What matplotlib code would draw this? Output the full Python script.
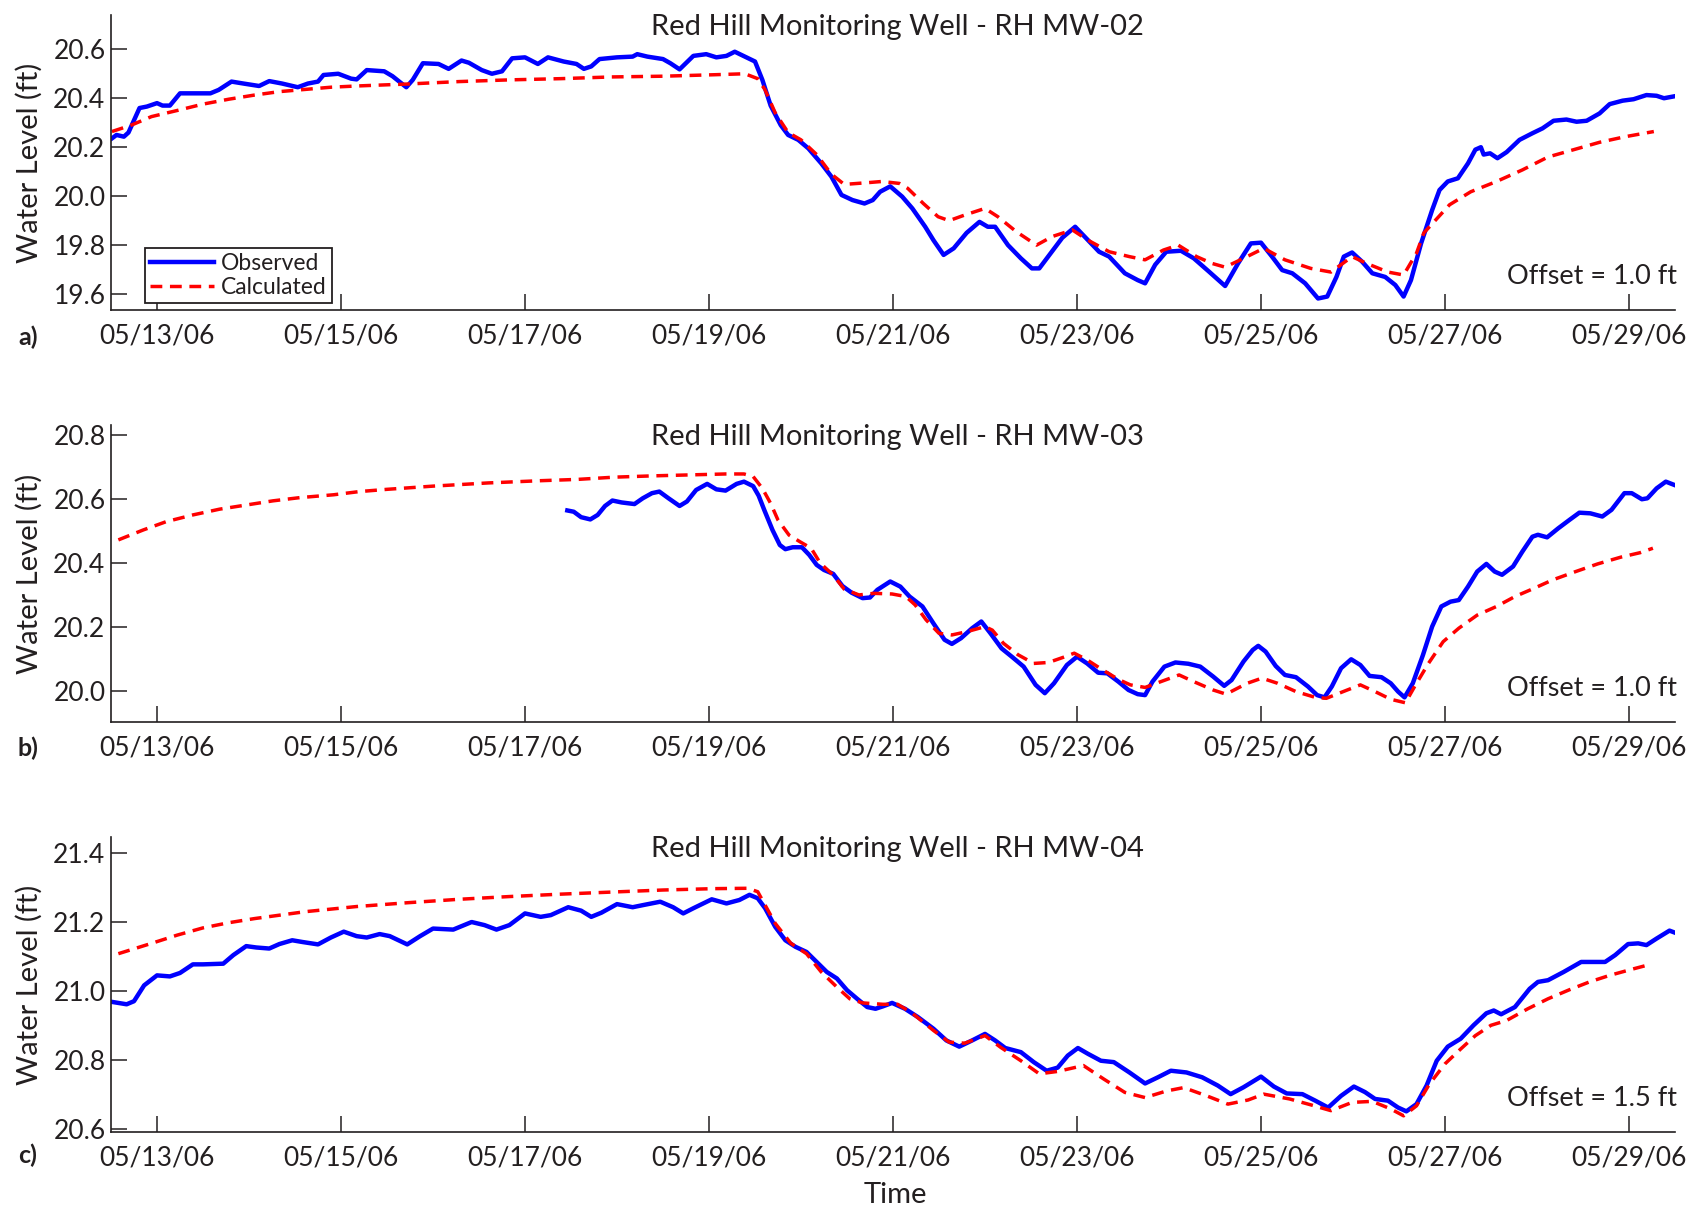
import numpy as np
import pandas as pd
import matplotlib
matplotlib.use('Agg')
import matplotlib.pyplot as plt
import matplotlib.dates as mdates

plt.rcParams['font.family'] = ['Lato', 'DejaVu Sans']

# times are fractional days of May 2006, levels in ft
mw02_obs_day = [12.51, 12.56, 12.64, 12.69, 12.81, 12.89, 13.0, 13.06, 13.14, 13.25,
                13.33, 13.58, 13.67, 13.81, 13.94, 14.11, 14.22, 14.36, 14.53, 14.64,
                14.75, 14.81, 14.97, 15.11, 15.17, 15.28, 15.47, 15.56, 15.71, 15.78,
                15.89, 16.06, 16.17, 16.31, 16.39, 16.53, 16.64, 16.75, 16.86, 17.0,
                17.14, 17.25, 17.42, 17.56, 17.64, 17.72, 17.81, 18.0, 18.17, 18.22,
                18.33, 18.5, 18.58, 18.68, 18.83, 18.97, 19.08, 19.19, 19.28, 19.39,
                19.5, 19.58, 19.67, 19.78, 19.86, 19.97, 20.08, 20.22, 20.33, 20.44,
                20.56, 20.69, 20.78, 20.86, 20.97, 21.1, 21.21, 21.35, 21.44, 21.55,
                21.66, 21.8, 21.94, 22.03, 22.11, 22.25, 22.39, 22.51, 22.59, 22.7,
                22.84, 22.98, 23.12, 23.24, 23.35, 23.52, 23.66, 23.74, 23.85, 23.97,
                24.13, 24.27, 24.44, 24.61, 24.75, 24.89, 25.0, 25.12, 25.23, 25.34,
                25.48, 25.62, 25.72, 25.82, 25.9, 25.99, 26.1, 26.21, 26.35, 26.46,
                26.55, 26.63, 26.74, 26.86, 26.94, 27.03, 27.14, 27.25, 27.33, 27.39,
                27.42, 27.49, 27.57, 27.67, 27.81, 27.95, 28.06, 28.18, 28.32, 28.43,
                28.54, 28.68, 28.79, 28.93, 29.05, 29.19, 29.3, 29.38, 29.48]
mw02_obs_lvl = [20.236, 20.25, 20.243, 20.26, 20.36, 20.366, 20.38, 20.37, 20.37, 20.42,
                20.42, 20.42, 20.434, 20.468, 20.46, 20.45, 20.47, 20.46, 20.445, 20.46,
                20.468, 20.495, 20.5, 20.48, 20.477, 20.515, 20.51, 20.49, 20.445, 20.475,
                20.543, 20.54, 20.52, 20.554, 20.545, 20.515, 20.5, 20.51, 20.563, 20.567,
                20.54, 20.567, 20.55, 20.54, 20.52, 20.53, 20.56, 20.567, 20.57, 20.58,
                20.57, 20.56, 20.543, 20.518, 20.573, 20.58, 20.567, 20.573, 20.59, 20.57,
                20.55, 20.475, 20.37, 20.29, 20.25, 20.23, 20.195, 20.134, 20.08, 20.005,
                19.984, 19.97, 19.984, 20.018, 20.04, 19.998, 19.95, 19.875, 19.82, 19.76,
                19.787, 19.85, 19.895, 19.875, 19.875, 19.80, 19.746, 19.705, 19.705, 19.76,
                19.83, 19.875, 19.82, 19.773, 19.753, 19.685, 19.657, 19.644, 19.72, 19.773,
                19.777, 19.746, 19.69, 19.633, 19.725, 19.807, 19.81, 19.753, 19.698, 19.685,
                19.644, 19.582, 19.59, 19.67, 19.753, 19.77, 19.732, 19.685, 19.67, 19.637,
                19.59, 19.657, 19.807, 19.943, 20.025, 20.06, 20.073, 20.134, 20.19, 20.20,
                20.17, 20.175, 20.155, 20.18, 20.23, 20.257, 20.277, 20.308, 20.313, 20.304,
                20.308, 20.338, 20.376, 20.39, 20.396, 20.413, 20.41, 20.40, 20.407]
mw02_calc_day = [12.51, 12.72, 12.94, 13.22, 13.5, 13.78, 14.06, 14.33, 14.61, 14.89,
                 15.17, 15.44, 15.72, 16.28, 16.83, 17.39, 17.94, 18.5, 19.06, 19.39,
                 19.53, 19.61, 19.72, 19.86, 20.0, 20.17, 20.33, 20.47, 20.72, 20.88,
                 21.07, 21.16, 21.33, 21.49, 21.61, 21.78, 22.0, 22.14, 22.34, 22.56,
                 22.73, 22.95, 23.12, 23.35, 23.57, 23.74, 23.94, 24.1, 24.3, 24.47,
                 24.61, 24.81, 25.03, 25.26, 25.54, 25.76, 25.99, 26.15, 26.38, 26.55,
                 26.69, 26.77, 26.88, 27.05, 27.28, 27.56, 27.84, 28.12, 28.4, 28.68,
                 28.96, 29.27]
mw02_calc_lvl = [20.264, 20.29, 20.325, 20.35, 20.376, 20.396, 20.413, 20.427, 20.436, 20.445,
                 20.45, 20.454, 20.458, 20.468, 20.475, 20.48, 20.487, 20.49, 20.496, 20.5,
                 20.48, 20.434, 20.34, 20.26, 20.23, 20.17, 20.09, 20.048, 20.055, 20.06,
                 20.052, 20.032, 19.97, 19.916, 19.90, 19.923, 19.95, 19.916, 19.855, 19.80,
                 19.835, 19.862, 19.82, 19.773, 19.753, 19.74, 19.78, 19.80, 19.753, 19.725,
                 19.71, 19.746, 19.787, 19.74, 19.705, 19.69, 19.753, 19.725, 19.69, 19.678,
                 19.767, 19.85, 19.895, 19.965, 20.018, 20.06, 20.107, 20.16, 20.19, 20.22,
                 20.243, 20.264]

mw03_obs_day = [17.46, 17.53, 17.61, 17.71, 17.79, 17.87, 17.95, 18.05, 18.19, 18.28,
                18.38, 18.46, 18.56, 18.68, 18.76, 18.86, 18.98, 19.08, 19.18, 19.3,
                19.38, 19.48, 19.54, 19.6, 19.69, 19.77, 19.83, 19.91, 20.01, 20.09,
                20.17, 20.25, 20.35, 20.45, 20.55, 20.67, 20.75, 20.83, 20.97, 21.08,
                21.18, 21.32, 21.44, 21.56, 21.64, 21.74, 21.86, 21.96, 22.06, 22.18,
                22.3, 22.42, 22.55, 22.65, 22.75, 22.89, 23.0, 23.11, 23.23, 23.33,
                23.45, 23.56, 23.66, 23.74, 23.82, 23.95, 24.07, 24.21, 24.34, 24.48,
                24.6, 24.68, 24.81, 24.91, 24.97, 25.05, 25.16, 25.26, 25.38, 25.51,
                25.61, 25.69, 25.77, 25.87, 25.98, 26.08, 26.18, 26.31, 26.41, 26.49,
                26.56, 26.65, 26.76, 26.86, 26.96, 27.06, 27.15, 27.25, 27.35, 27.45,
                27.54, 27.62, 27.74, 27.84, 27.95, 28.01, 28.11, 28.23, 28.36, 28.46,
                28.58, 28.71, 28.81, 28.95, 29.03, 29.14, 29.2, 29.3, 29.4, 29.49]
mw03_obs_lvl = [20.564, 20.56, 20.543, 20.536, 20.55, 20.578, 20.595, 20.589, 20.584, 20.602,
                20.618, 20.623, 20.602, 20.578, 20.592, 20.628, 20.647, 20.63, 20.626, 20.647,
                20.654, 20.64, 20.61, 20.566, 20.503, 20.456, 20.443, 20.449, 20.449, 20.425,
                20.394, 20.378, 20.366, 20.328, 20.307, 20.29, 20.292, 20.316, 20.342, 20.326,
                20.295, 20.264, 20.211, 20.16, 20.147, 20.165, 20.196, 20.217, 20.18, 20.133,
                20.105, 20.076, 20.019, 19.993, 20.024, 20.081, 20.107, 20.086, 20.057, 20.055,
                20.029, 20.003, 19.99, 19.987, 20.029, 20.076, 20.089, 20.085, 20.076, 20.045,
                20.016, 20.034, 20.092, 20.128, 20.141, 20.123, 20.078, 20.05, 20.043, 20.014,
                19.987, 19.98, 20.014, 20.071, 20.099, 20.081, 20.047, 20.043, 20.024, 19.998,
                19.98, 20.024, 20.112, 20.201, 20.264, 20.279, 20.284, 20.326, 20.373, 20.397,
                20.373, 20.363, 20.389, 20.435, 20.482, 20.488, 20.48, 20.508, 20.536, 20.557,
                20.555, 20.545, 20.566, 20.618, 20.618, 20.599, 20.602, 20.633, 20.654, 20.644]
mw03_calc_day = [12.58, 12.85, 13.1, 13.39, 13.68, 13.97, 14.26, 14.55, 14.92, 15.2,
                 15.5, 16.0, 16.6, 17.17, 17.57, 17.97, 18.38, 18.78, 19.18, 19.38,
                 19.48, 19.58, 19.67, 19.75, 19.87, 19.99, 20.11, 20.21, 20.35, 20.47,
                 20.63, 20.79, 20.99, 21.14, 21.24, 21.36, 21.5, 21.64, 21.8, 22.0,
                 22.08, 22.2, 22.36, 22.53, 22.69, 22.85, 22.97, 23.11, 23.25, 23.45,
                 23.58, 23.74, 23.91, 24.11, 24.27, 24.48, 24.62, 24.85, 25.01, 25.18,
                 25.38, 25.59, 25.71, 25.92, 26.08, 26.24, 26.41, 26.57, 26.67, 26.82,
                 26.98, 27.15, 27.35, 27.56, 27.76, 27.97, 28.17, 28.42, 28.66, 28.91,
                 29.12, 29.26]
mw03_calc_lvl = [20.472, 20.503, 20.529, 20.55, 20.568, 20.581, 20.594, 20.604, 20.613, 20.623,
                 20.63, 20.64, 20.65, 20.657, 20.661, 20.668, 20.672, 20.675, 20.678, 20.678,
                 20.67, 20.633, 20.586, 20.534, 20.487, 20.466, 20.446, 20.399, 20.362, 20.318,
                 20.30, 20.305, 20.303, 20.295, 20.269, 20.222, 20.18, 20.175, 20.185, 20.201,
                 20.19, 20.149, 20.113, 20.086, 20.089, 20.105, 20.118, 20.097, 20.071, 20.036,
                 20.019, 20.011, 20.029, 20.05, 20.029, 20.003, 19.99, 20.024, 20.04, 20.024,
                 19.998, 19.98, 19.977, 20.001, 20.019, 19.998, 19.974, 19.963, 20.014, 20.086,
                 20.154, 20.196, 20.237, 20.264, 20.295, 20.321, 20.347, 20.373, 20.397, 20.418,
                 20.432, 20.446]

mw04_obs_day = [12.51, 12.58, 12.67, 12.75, 12.86, 13.0, 13.14, 13.25, 13.39, 13.5,
                13.72, 13.83, 13.97, 14.08, 14.22, 14.33, 14.47, 14.58, 14.75, 14.89,
                15.03, 15.17, 15.28, 15.42, 15.53, 15.72, 15.86, 16.0, 16.22, 16.42,
                16.56, 16.69, 16.83, 17.0, 17.17, 17.28, 17.47, 17.61, 17.72, 17.83,
                18.0, 18.17, 18.28, 18.47, 18.61, 18.72, 18.83, 19.03, 19.19, 19.33,
                19.44, 19.53, 19.61, 19.72, 19.83, 19.94, 20.06, 20.17, 20.28, 20.39,
                20.5, 20.61, 20.72, 20.81, 20.89, 20.99, 21.13, 21.27, 21.44, 21.58,
                21.72, 21.86, 22.0, 22.11, 22.22, 22.39, 22.53, 22.67, 22.79, 22.9,
                23.01, 23.12, 23.26, 23.4, 23.57, 23.74, 23.88, 24.02, 24.19, 24.36,
                24.53, 24.67, 24.81, 25.0, 25.14, 25.28, 25.45, 25.59, 25.73, 25.87,
                26.01, 26.13, 26.24, 26.38, 26.49, 26.58, 26.69, 26.8, 26.91, 27.03,
                27.17, 27.31, 27.45, 27.53, 27.61, 27.76, 27.92, 28.01, 28.12, 28.29,
                28.48, 28.74, 28.85, 28.99, 29.1, 29.19, 29.3, 29.44, 29.5]
mw04_obs_lvl = [20.968, 20.965, 20.961, 20.97, 21.016, 21.045, 21.042, 21.052, 21.077, 21.077,
                21.079, 21.104, 21.13, 21.126, 21.123, 21.136, 21.147, 21.142, 21.135, 21.155,
                21.172, 21.159, 21.155, 21.165, 21.159, 21.135, 21.159, 21.181, 21.178, 21.2,
                21.191, 21.178, 21.191, 21.225, 21.215, 21.22, 21.243, 21.233, 21.215, 21.227,
                21.252, 21.243, 21.249, 21.259, 21.243, 21.225, 21.24, 21.266, 21.254, 21.264,
                21.279, 21.269, 21.24, 21.186, 21.147, 21.128, 21.113, 21.084, 21.055, 21.036,
                21.002, 20.977, 20.953, 20.948, 20.955, 20.965, 20.948, 20.924, 20.89, 20.856,
                20.838, 20.856, 20.875, 20.856, 20.834, 20.822, 20.793, 20.768, 20.777, 20.812,
                20.834, 20.817, 20.797, 20.793, 20.763, 20.731, 20.749, 20.768, 20.763, 20.749,
                20.725, 20.70, 20.72, 20.751, 20.722, 20.702, 20.70, 20.681, 20.661, 20.695,
                20.722, 20.706, 20.686, 20.681, 20.661, 20.65, 20.671, 20.725, 20.797, 20.838,
                20.861, 20.9, 20.935, 20.943, 20.932, 20.953, 21.006, 21.026, 21.031, 21.055,
                21.084, 21.084, 21.104, 21.136, 21.138, 21.133, 21.152, 21.175, 21.169]
mw04_calc_day = [12.58, 12.94, 13.22, 13.5, 13.78, 14.06, 14.61, 15.17, 15.72, 16.28,
                 16.83, 17.39, 17.94, 18.5, 19.06, 19.42, 19.53, 19.61, 19.72, 19.89,
                 20.06, 20.22, 20.39, 20.53, 20.67, 20.89, 21.05, 21.21, 21.44, 21.61,
                 21.78, 22.0, 22.17, 22.39, 22.59, 22.79, 23.07, 23.29, 23.52, 23.74,
                 23.97, 24.16, 24.41, 24.64, 24.86, 25.03, 25.31, 25.54, 25.76, 25.99,
                 26.21, 26.41, 26.55, 26.69, 26.83, 27.0, 27.17, 27.33, 27.5, 27.67,
                 27.9, 28.12, 28.35, 28.57, 28.79, 29.02, 29.19]
mw04_calc_lvl = [21.108, 21.138, 21.162, 21.183, 21.198, 21.21, 21.23, 21.245, 21.256, 21.266,
                 21.274, 21.281, 21.287, 21.293, 21.297, 21.298, 21.288, 21.249, 21.196, 21.138,
                 21.108, 21.055, 21.011, 20.977, 20.965, 20.961, 20.961, 20.935, 20.885, 20.851,
                 20.848, 20.87, 20.836, 20.797, 20.759, 20.766, 20.783, 20.744, 20.705, 20.69,
                 20.709, 20.719, 20.695, 20.671, 20.683, 20.70, 20.686, 20.669, 20.652, 20.676,
                 20.679, 20.657, 20.637, 20.666, 20.729, 20.788, 20.831, 20.87, 20.9, 20.914,
                 20.948, 20.977, 21.003, 21.026, 21.045, 21.062, 21.074]

titles = ['Red Hill Monitoring Well - RH MW-02',
          'Red Hill Monitoring Well - RH MW-03',
          'Red Hill Monitoring Well - RH MW-04']
offsets = ['Offset = 1.0 ft', 'Offset = 1.0 ft', 'Offset = 1.5 ft']
tags = ['a)', 'b)', 'c)']
yticks = [[19.6, 19.8, 20.0, 20.2, 20.4, 20.6],
          [20.0, 20.2, 20.4, 20.6, 20.8],
          [20.6, 20.8, 21.0, 21.2, 21.4]]
ylims = [(19.535, 20.74), (19.903, 20.831), (20.59, 21.447)]


def to_time(days):
    return pd.Timestamp('2006-04-30') + pd.to_timedelta(np.asarray(days), unit='D')


W, H = 1703, 1209
ink = '#231f20'
fig = plt.figure(figsize=(W / 100, H / 100), dpi=100)
fig.patch.set_facecolor('white')

# axes boxes in pixels: (top, bottom)
boxes = [(15, 310), (425, 722), (837, 1132)]
left_px, right_px = 111, 1675
tag_y = [337, 748, 1155]

data = [(mw02_obs_day, mw02_obs_lvl, mw02_calc_day, mw02_calc_lvl),
        (mw03_obs_day, mw03_obs_lvl, mw03_calc_day, mw03_calc_lvl),
        (mw04_obs_day, mw04_obs_lvl, mw04_calc_day, mw04_calc_lvl)]

for i, (od, ol, cd, cl) in enumerate(data):
    top, bot = boxes[i]
    ax = fig.add_axes([left_px / W, 1 - bot / H, (right_px - left_px) / W, (bot - top) / H])
    ax.plot(to_time(od), ol, color='#0000ff', lw=3.2, label='Observed')
    ax.plot(to_time(cd), cl, color='#ff0000', lw=2.5, dashes=(3.4, 2.2), label='Calculated')

    for s in ['top', 'right']:
        ax.spines[s].set_visible(False)
    for s in ['left', 'bottom']:
        ax.spines[s].set_linewidth(1.2)
        ax.spines[s].set_color(ink)

    ax.set_xlim(to_time([12.5, 29.5]))
    ax.set_ylim(*ylims[i])
    ax.set_yticks(yticks[i])
    ax.yaxis.set_major_formatter(matplotlib.ticker.FormatStrFormatter('%.1f'))
    ax.xaxis.set_major_locator(mdates.DayLocator(bymonthday=range(13, 30, 2)))
    ax.xaxis.set_major_formatter(mdates.DateFormatter('%m/%d/%y'))
    ax.tick_params(direction='in', length=11.5, width=1.1, labelsize=19,
                   color=ink, labelcolor=ink)
    ax.tick_params(axis='x', pad=9.5)
    ax.tick_params(axis='y', pad=4)

    ax.set_ylabel('Water Level (ft)', fontsize=21, color=ink, va='center')
    ax.yaxis.set_label_coords((29 - left_px) / (right_px - left_px), 0.5)

    h = bot - top
    ax.text(0.503, 1 - 20 / h, titles[i], transform=ax.transAxes,
            ha='center', va='baseline', fontsize=21, color=ink)
    ax.text(1.001, 33 / h, offsets[i], transform=ax.transAxes,
            ha='right', va='center', fontsize=19.5, color=ink)
    fig.text(28 / W, 1 - tag_y[i] / H, tags[i], ha='center', va='center',
             fontsize=18, fontweight='bold', color=ink)

    if i == 0:
        leg = ax.legend(loc='lower left',
                        bbox_to_anchor=((145 - left_px) / (right_px - left_px), 7 / h),
                        borderaxespad=0, fontsize=16.5, fancybox=False, framealpha=1,
                        edgecolor=ink, handlelength=2.8, handletextpad=0.3,
                        borderpad=0.22, labelspacing=0.12)
        leg.get_frame().set_linewidth(1.3)
        for t in leg.get_texts():
            t.set_color(ink)

fig.text(895 / W, 1 / H, 'Time', ha='center', va='bottom', fontsize=21, color=ink)

fig.savefig('out.png', dpi=100, facecolor='white')
